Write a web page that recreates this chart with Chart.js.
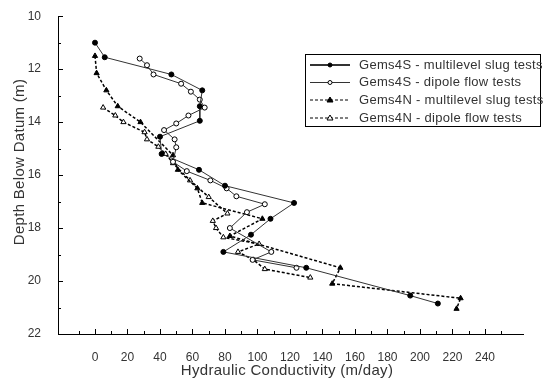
<!DOCTYPE html>
<html>
<head>
<meta charset="utf-8">
<script src="https://cdn.jsdelivr.net/npm/chart.js@4"></script>
<style>
    html, body { margin: 0; padding: 0; background: #fff; }
</style>
</head>
<body>
<canvas id="myChart" width="546" height="381"></canvas>
<script>
// Gems4S - multilevel slug tests
const slug4sK     = [0, 6, 47, 66, 64.5, 64.5, 40, 41, 64, 80, 122.5, 108, 96, 79, 130, 194, 211];
const slug4sDepth = [11.0, 11.55, 12.2, 12.8, 13.4, 13.95, 14.55, 15.2, 15.8, 16.4, 17.05, 17.65, 18.25, 18.9, 19.5, 20.55, 20.85];

// Gems4S - dipole flow tests
const dip4sK     = [27.5, 32, 36, 53, 59, 64.5, 67.5, 57.5, 50, 42.5, 49, 50, 48, 56.5, 71, 81, 87, 104.5, 93.5, 83, 108.5, 97, 124];
const dip4sDepth = [11.6, 11.85, 12.2, 12.55, 12.85, 13.15, 13.45, 13.75, 14.05, 14.3, 14.65, 14.95, 15.5, 15.85, 16.2, 16.5, 16.8, 17.1, 17.4, 18.0, 18.9, 19.2, 19.5];

// Gems4N - multilevel slug tests
const slug4nK     = [0, 1, 7, 14, 28, 48, 51, 63, 66, 103, 83, 151, 146, 225, 222.5];
const slug4nDepth = [11.5, 12.15, 12.8, 13.4, 14.0, 15.25, 15.8, 16.5, 17.05, 17.65, 18.3, 19.5, 20.1, 20.65, 21.05];

// Gems4N - dipole flow tests
const dip4nK     = [5, 12.5, 17.5, 30.5, 32, 39, 43.5, 48, 58.5, 70, 81.5, 72.5, 74.5, 79, 101, 88, 97.5, 104.5, 132.5];
const dip4nDepth = [13.45, 13.75, 14.0, 14.38, 14.65, 14.93, 15.2, 15.55, 16.2, 16.83, 17.45, 17.73, 18.0, 18.35, 18.6, 18.9, 19.2, 19.55, 19.87];

const seriesNames = [
    'Gems4S - multilevel slug tests',
    'Gems4S - dipole flow tests',
    'Gems4N - multilevel slug tests',
    'Gems4N - dipole flow tests'
];
const xTickLabels = [0, 20, 40, 60, 80, 100, 120, 140, 160, 180, 200, 220, 240];
const yTickLabels = [10, 12, 14, 16, 18, 20, 22];

const FONT = '"Liberation Sans", Arial, sans-serif';

function toPoints(k, depth) {
    return k.map((v, i) => ({ x: v, y: depth[i] }));
}

// ticks, axis titles and the boxed legend
const decorations = {
    id: 'decorations',
    afterDraw(chart) {
        const ctx = chart.ctx;
        const xs = chart.scales.x;
        const ys = chart.scales.y;
        const area = chart.chartArea;
        ctx.save();
        ctx.strokeStyle = '#000';
        ctx.lineWidth = 1;
        ctx.setLineDash([]);
        ctx.beginPath();
        for (let v = -10; v <= 250; v += 10) {
            const px = Math.round(xs.getPixelForValue(v)) + 0.5;
            const len = v % 20 === 0 ? 5 : 3;
            ctx.moveTo(px, area.bottom);
            ctx.lineTo(px, area.bottom - len);
        }
        for (let v = 10; v <= 22; v += 1) {
            const py = Math.round(ys.getPixelForValue(v)) + 0.5;
            const len = v % 2 === 0 ? 5 : 3;
            ctx.moveTo(area.left, py);
            ctx.lineTo(area.left + len, py);
        }
        ctx.stroke();

        // axis titles
        ctx.fillStyle = '#333';
        ctx.font = '15px ' + FONT;
        ctx.letterSpacing = '0.3px';
        ctx.textAlign = 'center';
        ctx.textBaseline = 'middle';
        ctx.fillText('Hydraulic Conductivity (m/day)', 287, 371);
        ctx.save();
        ctx.translate(20, 162);
        ctx.rotate(-Math.PI / 2);
        ctx.fillText('Depth Below Datum (m)', 0, 0);
        ctx.restore();

        // legend
        ctx.strokeStyle = '#000';
        ctx.strokeRect(305.5, 54.5, 235, 72);
        const rows = [65, 82.5, 100, 118];
        chart.data.datasets.forEach((ds, i) => {
            const y = rows[i];
            ctx.save();
            ctx.strokeStyle = ds.borderColor;
            ctx.lineWidth = i === 0 ? 2 : 1;
            ctx.setLineDash(ds.borderDash || []);
            ctx.beginPath();
            ctx.moveTo(310, y);
            ctx.lineTo(350, y);
            ctx.stroke();
            ctx.setLineDash([]);
            ctx.lineWidth = 1;
            ctx.fillStyle = ds.pointBackgroundColor;
            ctx.strokeStyle = '#000';
            ctx.beginPath();
            if (ds.pointStyle === 'circle') {
                ctx.arc(330, y, 2, 0, Math.PI * 2);
            } else {
                ctx.moveTo(330, y - 3);
                ctx.lineTo(333, y + 2);
                ctx.lineTo(327, y + 2);
                ctx.closePath();
            }
            ctx.fill();
            ctx.stroke();
            ctx.restore();

            ctx.fillStyle = '#333';
            ctx.font = '13px ' + FONT;
            ctx.letterSpacing = '0.3px';
            ctx.textAlign = 'left';
            ctx.textBaseline = 'middle';
            ctx.fillText(seriesNames[i], 359, y);
        });
        ctx.restore();
    }
};

const ctx = document.getElementById('myChart').getContext('2d');

const myChart = new Chart(ctx, {
    type: 'scatter',
    data: {
        datasets: [{
            label: seriesNames[0],
            data: toPoints(slug4sK, slug4sDepth),
            showLine: true,
            borderColor: '#333',
            borderWidth: 1,
            pointStyle: 'circle',
            pointRadius: 2.5,
            pointBackgroundColor: '#000',
            pointBorderColor: '#000',
            pointBorderWidth: 1
        }, {
            label: seriesNames[1],
            data: toPoints(dip4sK, dip4sDepth),
            showLine: true,
            borderColor: '#333',
            borderWidth: 1,
            pointStyle: 'circle',
            pointRadius: 2.5,
            pointBackgroundColor: '#fff',
            pointBorderColor: '#000',
            pointBorderWidth: 1
        }, {
            label: seriesNames[2],
            data: toPoints(slug4nK, slug4nDepth),
            showLine: true,
            borderColor: '#000',
            borderWidth: 1.5,
            borderDash: [3, 2],
            pointStyle: 'triangle',
            pointRadius: 3,
            pointBackgroundColor: '#000',
            pointBorderColor: '#000',
            pointBorderWidth: 1
        }, {
            label: seriesNames[3],
            data: toPoints(dip4nK, dip4nDepth),
            showLine: true,
            borderColor: '#000',
            borderWidth: 1.5,
            borderDash: [3, 2],
            pointStyle: 'triangle',
            pointRadius: 3,
            pointBackgroundColor: '#fff',
            pointBorderColor: '#000',
            pointBorderWidth: 1
        }]
    },
    options: {
        responsive: false,
        animation: false,
        events: [],
        layout: {
            padding: { top: 16, right: 23, left: 0, bottom: 0 }
        },
        elements: {
            line: { tension: 0 }
        },
        plugins: {
            legend: { display: false },
            tooltip: { enabled: false }
        },
        scales: {
            x: {
                type: 'linear',
                min: -22.77,
                max: 263.4,
                afterBuildTicks: (scale) => {
                    scale.ticks = xTickLabels.map(v => ({ value: v }));
                },
                afterFit: (scale) => { scale.height = 47; },
                grid: { display: false },
                border: { display: true, color: '#000', width: 1 },
                ticks: {
                    padding: 8,
                    color: '#333',
                    font: { family: FONT, size: 12 }
                }
            },
            y: {
                type: 'linear',
                reverse: true,
                min: 10,
                max: 22,
                afterBuildTicks: (scale) => {
                    scale.ticks = yTickLabels.map(v => ({ value: v }));
                },
                afterFit: (scale) => { scale.width = 58; },
                grid: { display: false },
                border: { display: true, color: '#000', width: 1 },
                ticks: {
                    padding: 9,
                    color: '#333',
                    font: { family: FONT, size: 12 }
                }
            }
        }
    },
    plugins: [decorations]
});
</script>
</body>
</html>
